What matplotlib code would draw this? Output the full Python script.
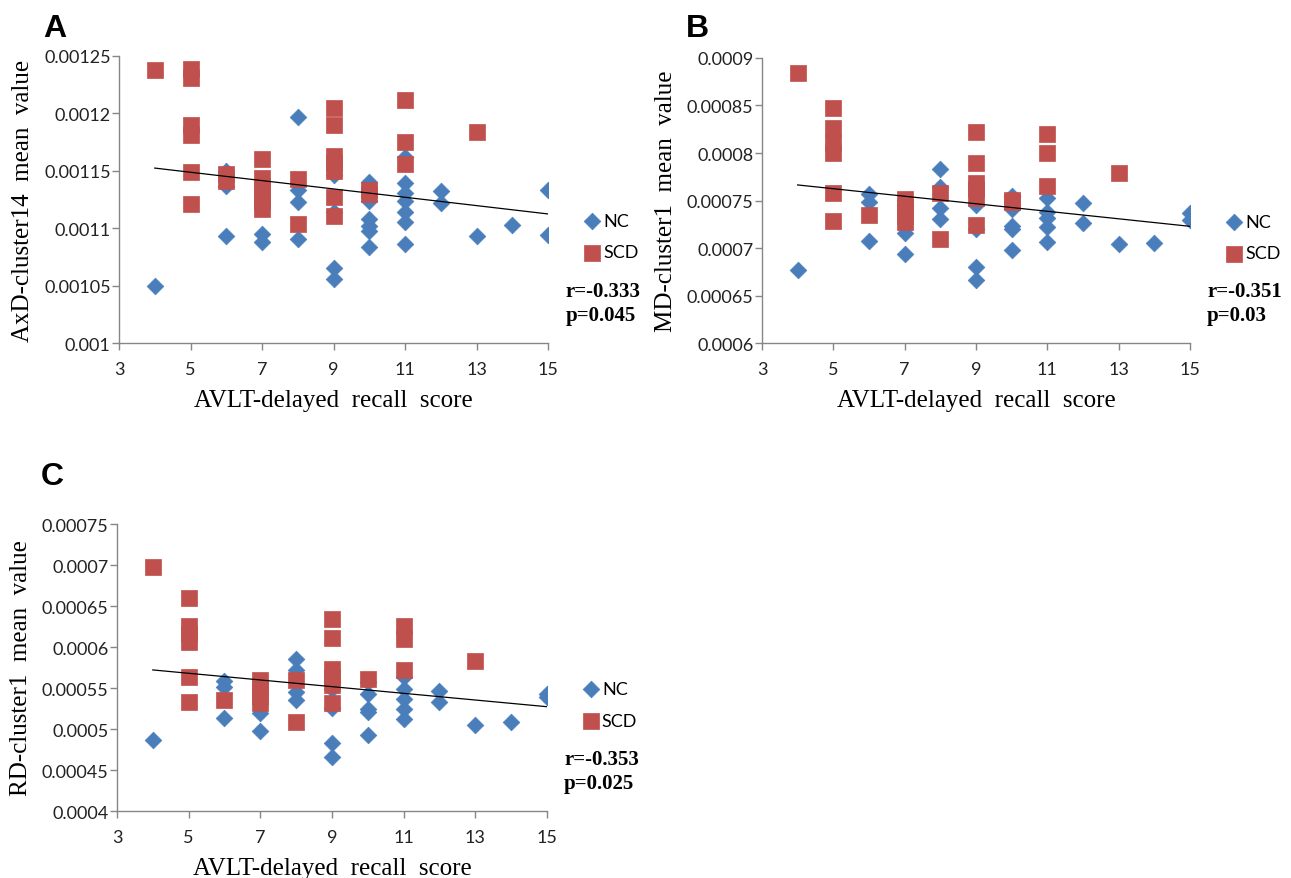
import numpy as np
import matplotlib
matplotlib.use("Agg")
import matplotlib.pyplot as plt

# ---- data ----
x_ticks = [3, 5, 7, 9, 11, 13, 15]

# A: AxD-cluster14
a_nc_x = [4, 6, 6, 6, 7, 7, 7, 8, 8, 8, 8, 9, 9, 9, 9,
          10, 10, 10, 10, 10, 10, 11, 11, 11, 11, 11, 11, 11,
          12, 12, 13, 14, 15, 15]
a_nc_y = [0.00105, 0.00115, 0.001137, 0.001093, 0.00112, 0.001095, 0.001088,
          0.001197, 0.001133, 0.001123, 0.001091,
          0.001146, 0.001114, 0.001065, 0.001056,
          0.00114, 0.001124, 0.001108, 0.001102, 0.001098, 0.001084,
          0.001162, 0.001139, 0.001131, 0.001124, 0.001114, 0.001105, 0.001086,
          0.001132, 0.001122, 0.001093, 0.001103, 0.001133, 0.001094]
a_scd_x = [4, 5, 5, 5, 5, 5, 5, 6, 6, 7, 7, 7, 7, 7, 7, 8, 8,
           9, 9, 9, 9, 9, 9, 9, 10, 10, 11, 11, 11, 13]
a_scd_y = [0.001238, 0.001239, 0.001231, 0.00119, 0.001181, 0.001149, 0.001121,
           0.001147, 0.001141,
           0.00116, 0.001144, 0.001137, 0.00113, 0.001123, 0.001117,
           0.001143, 0.001104,
           0.001205, 0.00119, 0.001163, 0.001157, 0.00115, 0.001127, 0.001111,
           0.001133, 0.00113, 0.001212, 0.001175, 0.001156, 0.001184]
a_yticks = [0.001, 0.00105, 0.0011, 0.00115, 0.0012, 0.00125]
a_ylabels = ["0.001", "0.00105", "0.0011", "0.00115", "0.0012", "0.00125"]

# B: MD-cluster1
b_nc_x = [4, 6, 6, 6, 7, 7, 7, 8, 8, 8, 8, 9, 9, 9, 9,
          10, 10, 10, 10, 10, 11, 11, 11, 11, 11, 12, 12, 13, 14, 15, 15]
b_nc_y = [0.000677, 0.000757, 0.000748, 0.000707, 0.000745, 0.000716, 0.000694,
          0.000783, 0.000764, 0.000742, 0.000731,
          0.000745, 0.00072, 0.00068, 0.000666,
          0.000755, 0.000741, 0.000723, 0.00072, 0.000698,
          0.000753, 0.000738, 0.000732, 0.000722, 0.000706,
          0.000747, 0.000726, 0.000704, 0.000705, 0.000737, 0.000729]
b_scd_x = [4, 5, 5, 5, 5, 5, 5, 6, 7, 7, 7, 7, 8, 8,
           9, 9, 9, 9, 9, 9, 10, 10, 11, 11, 11, 13]
b_scd_y = [0.000884, 0.000847, 0.000826, 0.00081, 0.0008, 0.000758, 0.000728,
           0.000735, 0.000752, 0.000743, 0.000734, 0.000727,
           0.000758, 0.000709,
           0.000822, 0.000789, 0.000768, 0.000762, 0.000753, 0.000724,
           0.000751, 0.000748, 0.00082, 0.0008, 0.000765, 0.000779]
b_yticks = [0.0006, 0.00065, 0.0007, 0.00075, 0.0008, 0.00085, 0.0009]
b_ylabels = ["0.0006", "0.00065", "0.0007", "0.00075", "0.0008", "0.00085", "0.0009"]

# C: RD-cluster1
c_nc_x = [4, 6, 6, 6, 7, 7, 7, 8, 8, 8, 8, 9, 9, 9, 9, 9,
          10, 10, 10, 10, 10, 11, 11, 11, 11, 11, 12, 12, 13, 14, 15, 15]
c_nc_y = [0.000487, 0.000558, 0.000551, 0.000513, 0.000545, 0.00052, 0.000498,
          0.000585, 0.000572, 0.000545, 0.000536,
          0.000557, 0.000549, 0.000526, 0.000483, 0.000466,
          0.000557, 0.000543, 0.000525, 0.000521, 0.000493,
          0.000563, 0.000549, 0.000537, 0.000525, 0.000512,
          0.000546, 0.000533, 0.000505, 0.000508, 0.000543, 0.000539]
c_scd_x = [4, 5, 5, 5, 5, 5, 5, 6, 7, 7, 7, 7, 8, 8,
           9, 9, 9, 9, 9, 9, 10, 11, 11, 11, 13]
c_scd_y = [0.000698, 0.00066, 0.000626, 0.000616, 0.000606, 0.000564, 0.000533,
           0.000535, 0.00056, 0.000551, 0.00054, 0.000532,
           0.00056, 0.000509,
           0.000634, 0.000611, 0.000573, 0.000563, 0.000554, 0.000532,
           0.000561, 0.000626, 0.00061, 0.000572, 0.000583]
c_yticks = [0.0004, 0.00045, 0.0005, 0.00055, 0.0006, 0.00065, 0.0007, 0.00075]
c_ylabels = ["0.0004", "0.00045", "0.0005", "0.00055", "0.0006", "0.00065", "0.0007", "0.00075"]

panels = [
    ("A", [0.0922, 0.6086, 0.3323, 0.3266], a_nc_x, a_nc_y, a_scd_x, a_scd_y,
     a_yticks, a_ylabels, "AxD-cluster14  mean  value", "r=-0.333\np=0.045"),
    ("B", [0.5902, 0.6086, 0.3316, 0.3243], b_nc_x, b_nc_y, b_scd_x, b_scd_y,
     b_yticks, b_ylabels, "MD-cluster1  mean  value", "r=-0.351\np=0.03"),
    ("C", [0.0906, 0.0762, 0.3330, 0.3265], c_nc_x, c_nc_y, c_scd_x, c_scd_y,
     c_yticks, c_ylabels, "RD-cluster1  mean  value", "r=-0.353\np=0.025"),
]

BLUE = "#4a7ebb"
RED = "#c0504d"
AXC = "#868686"
SANS = ["Lato", "DejaVu Sans"]
SERIF = ["Liberation Serif", "DejaVu Serif"]

fig = plt.figure(figsize=(12.91, 8.79), dpi=100)

for letter, rect, nx, ny, sx, sy, yt, yl, ylab, stat in panels:
    ax = fig.add_axes(rect)
    ax.scatter(nx, ny, marker="D", s=72, color=BLUE, edgecolors=BLUE,
               linewidths=0.5, zorder=3, label="NC")
    ax.scatter(sx, sy, marker="s", s=125, color=RED, edgecolors=RED,
               linewidths=0.5, zorder=4, label="SCD")

    # linear trend over all subjects
    allx = np.array(nx + sx, dtype=float)
    ally = np.array(ny + sy, dtype=float)
    k, b = np.polyfit(allx, ally, 1)
    xs = np.array([min(allx), max(allx)])
    ax.plot(xs, k * xs + b, color="black", lw=0.9, zorder=5)

    ax.set_xlim(3, 15)
    ax.set_ylim(yt[0], yt[-1])
    ax.set_xticks(x_ticks)
    ax.set_xticklabels([str(t) for t in x_ticks], family=SANS, fontsize=13)
    ax.set_yticks(yt)
    ax.set_yticklabels(yl, family=SANS, fontsize=13)
    for s in ["top", "right"]:
        ax.spines[s].set_visible(False)
    for s in ["left", "bottom"]:
        ax.spines[s].set_color(AXC)
        ax.spines[s].set_linewidth(1.0)
    ax.tick_params(colors=AXC, labelcolor="#222222", length=5, width=1.0,
                   direction="out", pad=1)
    ax.tick_params(axis="x", pad=8)

    ax.set_ylabel(ylab, family=SERIF, fontsize=18)
    ax.yaxis.set_label_coords(-0.198, 0.5)
    ax.set_xlabel("AVLT-delayed  recall  score", family=SERIF, fontsize=18)
    ax.xaxis.set_label_coords(0.5, -0.16)

    ax.legend(loc="center left", bbox_to_anchor=(1.065, 0.37),
              frameon=False, handletextpad=0.1, labelspacing=0.85,
              prop={"family": SANS, "size": 13}, scatterpoints=1,
              handlelength=1.0, borderaxespad=0)

    ax.text(1.04, 0.14, stat, transform=ax.transAxes, family=SERIF,
            fontweight="bold", fontsize=15, va="center", ha="left",
            linespacing=1.25)

    fig.text(rect[0] - 0.05, 0.967 if letter != "C" else 0.457, letter,
             family=["Liberation Sans", "DejaVu Sans"], fontweight="bold",
             fontsize=23, ha="center", va="center")

fig.savefig("out.png", dpi=100)
